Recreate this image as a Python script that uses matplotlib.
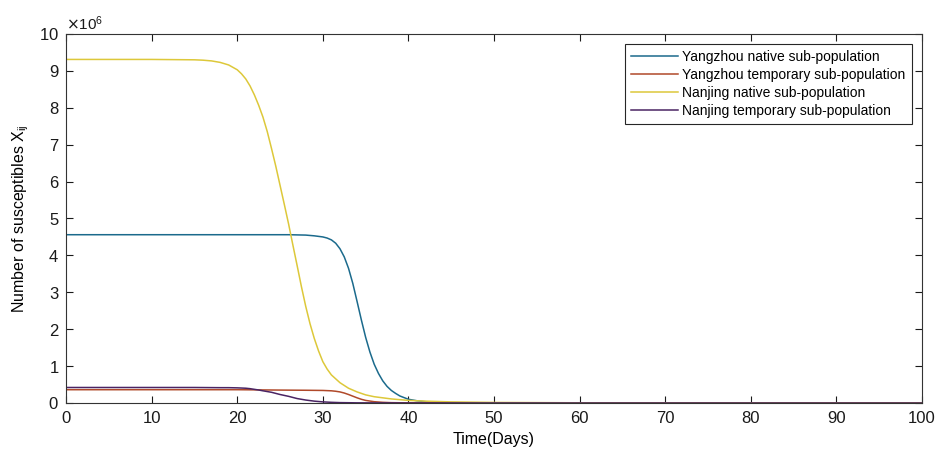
import numpy as np
import matplotlib
matplotlib.use('Agg')
import matplotlib.pyplot as plt
from matplotlib.ticker import ScalarFormatter

plt.rcParams['font.family'] = ['Liberation Sans', 'DejaVu Sans']

# susceptibles, in millions, sampled denser where the curves change
yz_native_days = [0, 10, 20, 26, 28, 29, 30, 30.5, 31, 31.5, 32, 32.5, 33, 33.5, 34,
                  34.5, 35, 35.5, 36, 36.5, 37, 37.5, 38, 38.5, 39, 40, 41, 42, 43,
                  45, 50, 60, 100]
yz_native = [4.56, 4.56, 4.56, 4.56, 4.55, 4.53, 4.50, 4.47, 4.42, 4.33, 4.18, 3.96,
             3.65, 3.24, 2.75, 2.25, 1.78, 1.38, 1.05, 0.80, 0.60, 0.45, 0.34, 0.26,
             0.19, 0.10, 0.06, 0.035, 0.02, 0.008, 0.002, 0.0, 0.0]

yz_temp_days = [0, 20, 25, 28, 30, 31, 31.5, 32, 32.5, 33, 33.5, 34, 34.5, 35, 36,
                37, 38, 40, 45, 100]
yz_temp = [0.36, 0.36, 0.35, 0.345, 0.34, 0.33, 0.318, 0.30, 0.27, 0.23, 0.185, 0.14,
           0.10, 0.07, 0.035, 0.018, 0.009, 0.003, 0.001, 0.0]

nj_native_days = [0, 10, 15, 16, 17, 18, 19, 20, 20.5, 21, 21.5, 22, 22.5, 23, 23.5,
                  24, 24.5, 25, 25.5, 26, 26.5, 27, 27.5, 28, 28.5, 29, 29.5, 30,
                  30.5, 31, 32, 33, 34, 35, 36, 37, 38, 39, 40, 42, 45, 50, 60, 70, 100]
nj_native = [9.31, 9.31, 9.30, 9.29, 9.27, 9.23, 9.16, 9.03, 8.92, 8.78, 8.59, 8.35,
             8.07, 7.75, 7.36, 6.90, 6.42, 5.90, 5.38, 4.85, 4.28, 3.72, 3.15, 2.62,
             2.15, 1.75, 1.41, 1.12, 0.92, 0.76, 0.55, 0.40, 0.30, 0.22, 0.17, 0.14,
             0.11, 0.09, 0.07, 0.05, 0.03, 0.015, 0.005, 0.002, 0.0]

nj_temp_days = [0, 15, 18, 19, 20, 21, 21.5, 22, 22.5, 23, 23.5, 24, 24.5, 25, 25.5,
                26, 26.5, 27, 28, 29, 30, 31, 32, 34, 40, 100]
nj_temp = [0.42, 0.42, 0.415, 0.415, 0.41, 0.40, 0.388, 0.37, 0.352, 0.33, 0.31, 0.29,
           0.26, 0.23, 0.205, 0.18, 0.15, 0.12, 0.08, 0.05, 0.03, 0.018, 0.01, 0.004,
           0.001, 0.0]

labels = ['Yangzhou native sub-population', 'Yangzhou temporary sub-population',
          'Nanjing native sub-population', 'Nanjing temporary sub-population']
colors = ['#1b6a8c', '#b0492a', '#ddc83a', '#4a2463']

fig = plt.figure(figsize=(9.38, 4.53), dpi=100)
ax = fig.add_axes([0.0704, 0.1104, 0.9126, 0.8146])

series = [(yz_native_days, yz_native), (yz_temp_days, yz_temp),
          (nj_native_days, nj_native), (nj_temp_days, nj_temp)]
for (d, vals), lab, c in zip(series, labels, colors):
    ax.plot(d, np.array(vals) * 1e6, color=c, lw=1.1, label=lab)

ax.set_xlim(0, 100)
ax.set_ylim(0, 1e7)
ax.set_xticks(range(0, 101, 10))
ax.set_yticks(np.arange(0, 11) * 1e6)

fmt = ScalarFormatter(useMathText=True)
fmt.set_powerlimits((6, 6))
ax.yaxis.set_major_formatter(fmt)
ax.yaxis.get_offset_text().set_fontsize(11)

ax.tick_params(direction='in', top=True, right=True, length=5, width=0.8,
               labelsize=12, colors='0.1', pad=5)
ax.tick_params(axis='x', pad=6)
for s in ax.spines.values():
    s.set_color('0.2')
    s.set_linewidth(0.8)

ax.set_xlabel('Time(Days)', fontsize=11.5, labelpad=4)
ax.set_ylabel('Number of susceptibles X$_{\\mathregular{ij}}$', fontsize=11.5, labelpad=6)

leg = ax.legend(loc='upper right', fontsize=10, handlelength=3.4, handletextpad=0.3,
                labelspacing=0.28, borderpad=0.45, fancybox=False, framealpha=1,
                borderaxespad=0, bbox_to_anchor=(0.988, 0.973))
leg.get_frame().set_edgecolor('0.15')
leg.get_frame().set_linewidth(0.8)

fig.savefig('out.png', dpi=100)
